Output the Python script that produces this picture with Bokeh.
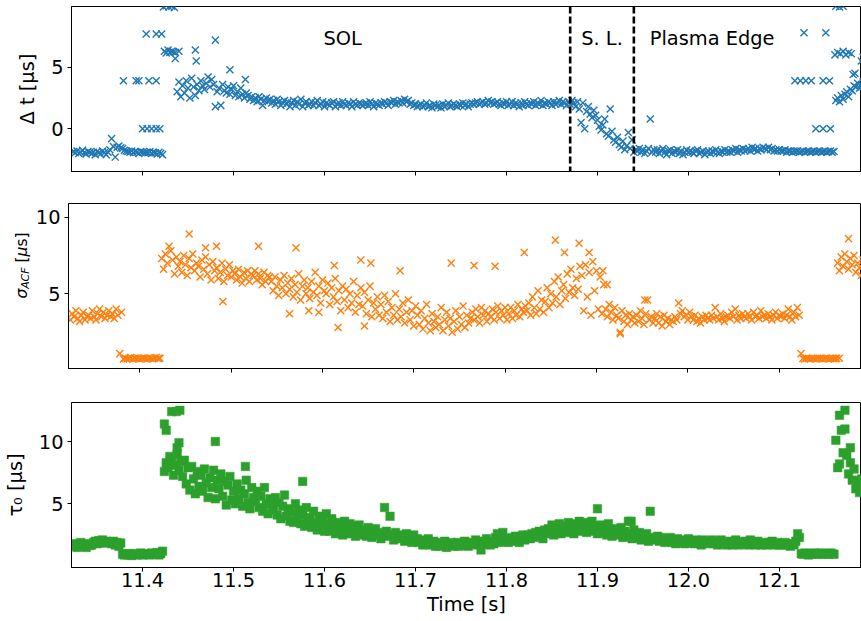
import numpy as np
from bokeh.plotting import figure
from bokeh.layouts import column, row
from bokeh.models import Range1d, FixedTicker, Span, Label
from bokeh.embed import file_html
from bokeh.resources import INLINE

# ---------------- data ----------------
t_start = 11.324   # first sample time [s]
t_step = 0.002     # sampling step [s]

dt_values = [
    -1.85, -1.95, -1.8, -2.0, -1.9, -1.75, -1.95, -2.05, -1.85, -1.9,
    -2.0, -1.9, -2.1, -1.85, -1.95, -2.05, -1.8, -1.95, -2.1, -1.9,
    -1.7, -0.8, -1.45, -2.3, -1.5, -1.4, -1.55, -1.6, -1.75, -1.8,
    -1.85, -1.9, -1.8, -1.95, -1.85, -1.9, -2.0, -1.85, -1.9, -1.95,
    -1.9, -1.95, -1.85, -2.0, -1.9, -1.95, -2.05, -1.9, -2.0, -2.1,
    6.3, 6.15, 6.4, 6.2, 6.3, 6.25, 5.7, 3.0, 3.8, 2.6,
    3.5, 2.9, 3.9, 3.3, 2.5, 4.1, 3.4, 2.7, 3.6, 3.1,
    3.9, 3.5, 3.2, 3.7, 4.2, 3.4, 4.0, 3.6, 1.8, 3.0,
    3.3, 1.9, 3.6, 3.1, 2.9, 3.4, 2.8, 3.2, 3.5, 2.7,
    3.0, 2.6, 3.3, 2.8, 2.5, 2.9, 2.7, 2.4, 2.6, 2.3,
    2.5, 2.2, 2.6, 2.4, 1.9, 2.3, 2.5, 2.2, 2.4, 2.1,
    2.3, 2.0, 2.4, 2.2, 1.9, 2.1, 2.3, 2.0, 2.2, 1.8,
    2.1, 2.3, 1.9, 2.2, 2.0, 2.4, 1.8, 2.1, 2.2, 1.9,
    2.0, 2.2, 1.9, 2.1, 2.3, 1.9, 2.0, 2.2, 1.8, 2.1,
    2.0, 1.9, 2.1, 2.2, 1.8, 2.0, 2.1, 1.9, 2.2, 2.0,
    1.9, 2.1, 2.0, 1.8, 2.2, 2.0, 1.9, 2.1, 2.0, 1.9,
    2.0, 2.1, 1.9, 2.2, 2.0, 1.8, 2.1, 2.0, 1.9, 2.1,
    2.0, 2.2, 2.1, 1.9, 2.2, 2.1, 2.3, 2.0, 2.2, 2.1,
    2.3, 2.1, 2.4, 2.2, 2.3, 2.0, 2.1, 1.9, 2.0, 1.8,
    1.9, 2.0, 1.8, 1.9, 2.1, 1.8, 1.9, 1.7, 2.0, 1.9,
    1.8, 1.9, 1.7, 2.0, 1.8, 1.9, 2.1, 1.8, 1.9, 2.0,
    1.9, 1.8, 2.0, 1.9, 2.1, 1.9, 2.0, 1.8, 2.0, 2.1,
    2.0, 2.1, 2.2, 2.0, 2.1, 2.2, 2.0, 2.1, 2.3, 2.1,
    2.2, 2.0, 2.1, 2.2, 2.0, 1.9, 2.1, 2.0, 2.2, 1.9,
    2.0, 2.2, 1.9, 2.1, 2.0, 1.8, 2.1, 1.9, 2.2, 2.0,
    1.9, 2.1, 2.0, 2.2, 1.9, 2.1, 2.0, 2.3, 1.9, 2.1,
    2.0, 2.2, 2.1, 1.9, 2.2, 2.0, 2.1, 2.3, 2.0, 2.2,
    2.1, 1.9, 2.2, 2.0, 2.3, 2.1, 1.8, 2.2, 1.6, 0.5,
    2.1, 0.0, 1.4, 1.8, 1.2, 0.9, 1.5, 1.1, 0.7, 0.2,
    -0.1, 0.3, 0.8, -0.4, -0.6, 1.6, -0.2, -0.9, -1.1, -0.7,
    -1.3, -1.5, -1.0, -1.7, -1.4, -0.3, -1.6, -0.9, -1.9, -1.7,
    -1.8, -1.6, -1.9, -1.7, -2.0, -1.8, -1.6, 0.8, -1.9, -1.7,
    -1.9, -1.7, -2.0, -1.8, -1.6, -1.9, -2.1, -1.8, -1.7, -2.0,
    -1.8, -1.9, -1.7, -2.0, -1.8, -2.1, -1.9, -1.7, -1.9, -1.8,
    -1.9, -2.0, -1.8, -1.7, -2.0, -1.9, -1.8, -2.1, -1.9, -1.8,
    -2.0, -1.8, -1.9, -1.7, -1.9, -2.0, -1.8, -1.9, -1.7, -1.9,
    -1.8, -1.9, -1.7, -1.8, -1.6, -1.9, -1.7, -1.8, -1.6, -1.8,
    -1.7, -1.6, -1.8, -1.5, -1.7, -1.6, -1.8, -1.6, -1.7, -1.5,
    -1.6, -1.7, -1.5, -1.7, -1.6, -1.8, -1.7, -1.8, -1.7, -1.8,
    -1.8, -1.7, -1.9, -1.8, -1.8, -1.9, -1.8, -1.85, -1.8, -1.9,
    -1.85, -1.8, -1.9, -1.85, -1.8, -1.9, -1.85, -1.8, -1.9, -1.85,
    -1.8, -1.9, -1.85, -1.8, -1.9, -1.85, -1.8, -1.9, -1.85, 2.3,
    2.5, 2.2, 2.7, 2.4, 2.8, 3.0, 2.6, 3.2, 3.1, 3.5,
    3.4, 3.7, 3.3, 3.6, 3.8,
]

sigma_values = [
    3.3, 3.7, 3.5, 3.9, 3.4, 3.2, 3.6, 3.8, 3.3, 3.5,
    3.6, 3.4, 3.9, 3.5, 3.3, 3.7, 4.0, 3.5, 3.8, 3.4,
    3.6, 3.9, 3.5, 3.7, 3.4, 4.0, 3.6, 1.1, 3.8, 0.75,
    0.8, 0.75, 0.8, 0.85, 0.75, 0.8, 0.78, 0.82, 0.75, 0.8,
    0.8, 0.78, 0.75, 0.82, 0.8, 0.76, 0.8, 0.85, 0.78, 0.8,
    7.3, 6.6, 7.6, 7.0, 8.1, 7.8, 7.2, 6.3, 7.4, 6.8,
    7.1, 6.4, 7.5, 6.9, 6.2, 7.3, 6.7, 7.6, 6.5, 7.0,
    6.8, 6.1, 7.2, 6.6, 7.4, 6.3, 6.9, 5.9, 7.1, 6.5,
    6.7, 6.0, 6.4, 7.0, 5.8, 6.6, 6.2, 6.9, 6.1, 6.5,
    6.3, 5.9, 6.6, 6.1, 5.7, 6.4, 6.0, 6.5, 5.8, 6.3,
    6.2, 6.5, 5.9, 6.3, 6.0, 5.6, 6.4, 5.8, 6.2, 6.1,
    5.8, 5.2, 6.1, 5.5, 4.9, 5.9, 5.4, 6.2, 5.0, 5.7,
    5.3, 6.0, 4.8, 5.6, 5.1, 6.3, 4.6, 5.5, 5.9, 5.0,
    5.4, 4.7, 5.8, 5.1, 6.4, 4.9, 5.5, 4.4, 5.9, 5.2,
    5.0, 5.7, 4.3, 5.4, 4.8, 6.0, 4.5, 5.2, 3.9, 5.5,
    4.6, 5.3, 4.1, 5.0, 4.4, 5.8, 3.8, 4.9, 4.3, 5.4,
    4.2, 5.1, 3.7, 4.6, 5.5, 3.5, 4.4, 4.0, 4.8, 3.6,
    4.3, 3.4, 4.9, 3.8, 4.5, 3.2, 4.1, 3.6, 5.0, 3.3,
    4.0, 3.5, 4.4, 3.1, 3.8, 4.6, 3.3, 3.9, 2.9, 4.2,
    3.6, 3.0, 3.9, 2.7, 3.4, 4.3, 3.1, 2.6, 3.7, 3.2,
    2.8, 3.5, 3.0, 4.1, 2.6, 3.3, 3.8, 2.9, 3.4, 2.5,
    3.2, 3.9, 2.7, 3.5, 3.0, 4.2, 2.8, 3.6, 3.1, 3.4,
    3.8, 3.3, 4.0, 3.5, 3.1, 4.1, 3.6, 3.9, 3.2, 3.7,
    3.5, 4.0, 3.3, 3.8, 4.2, 3.4, 3.9, 3.6, 4.1, 3.3,
    3.7, 4.1, 3.4, 3.9, 3.6, 4.3, 3.5, 4.0, 3.8, 4.2,
    3.9, 4.4, 3.6, 4.8, 4.1, 3.7, 5.2, 4.0, 4.6, 3.8,
    4.5, 5.4, 4.1, 5.0, 4.4, 5.8, 4.8, 6.1, 4.3, 5.2,
    5.6, 4.7, 6.3, 5.1, 6.6, 5.4, 4.9, 6.0, 5.3, 6.8,
    6.2, 3.9, 6.9, 4.8, 6.4, 3.6, 7.1, 5.2, 6.5, 4.0,
    6.1, 3.7, 5.6, 4.0, 3.5, 4.3, 3.8, 3.3, 4.1, 3.6,
    3.4, 2.5, 3.9, 3.2, 3.6, 3.0, 3.7, 3.3, 3.5, 3.1,
    3.6, 3.2, 3.9, 3.4, 3.0, 3.7, 4.6, 3.3, 3.5, 3.1,
    3.4, 3.7, 3.1, 3.5, 2.9, 3.6, 3.2, 3.4, 3.0, 3.3,
    3.2, 3.5, 3.3, 4.4, 3.7, 3.9, 3.5, 3.6, 3.3, 3.8,
    3.5, 3.3, 3.6, 3.2, 3.4, 3.1, 3.5, 3.3, 3.6, 3.4,
    3.3, 3.6, 3.4, 4.1, 3.5, 3.3, 3.7, 3.4, 3.2, 3.5,
    3.6, 3.4, 3.8, 3.5, 4.0, 3.3, 3.6, 3.4, 3.7, 3.5,
    3.4, 3.7, 3.5, 3.3, 3.8, 3.5, 3.6, 3.4, 3.9, 3.5,
    3.6, 3.4, 3.7, 3.5, 3.3, 3.6, 3.8, 3.4, 3.6, 3.5,
    3.7, 3.4, 3.6, 4.0, 3.5, 3.3, 3.8, 3.5, 4.1, 3.6,
    1.1, 0.78, 0.75, 0.8, 0.78, 0.76, 0.8, 0.78, 0.75, 0.8,
    0.78, 0.8, 0.76, 0.78, 0.8, 0.75, 0.78, 0.8, 0.77, 0.79,
    7.0, 6.5, 7.4, 6.8, 7.6, 7.1, 6.6, 7.3, 6.9, 7.5,
    6.4, 7.0, 6.7, 6.2, 7.2,
]

tau_values = [
    1.6, 1.8, 1.5, 1.7, 1.9, 1.6, 1.75, 1.5, 1.8, 1.65,
    1.7, 1.9, 2.0, 1.8, 2.05, 1.9, 2.1, 1.85, 2.0, 1.9,
    1.95, 1.8, 2.0, 1.7, 1.9, 1.6, 1.85, 0.95, 0.9, 1.0,
    0.9, 1.0, 0.85, 0.95, 1.0, 0.9, 0.95, 1.05, 0.9, 0.95,
    1.0, 0.95, 0.9, 1.05, 1.0, 0.95, 1.1, 0.9, 1.0, 1.2,
    7.6, 8.3, 7.9, 8.8, 8.6, 7.3, 8.1, 9.0, 7.7, 8.4,
    7.2, 8.5, 6.6, 7.9, 6.1, 8.0, 7.0, 5.8, 7.6, 6.4,
    7.3, 6.0, 7.8, 6.7, 5.5, 7.1, 6.3, 7.7, 5.4, 6.9,
    6.2, 7.4, 5.6, 6.8, 4.9, 6.5, 7.2, 5.3, 6.0, 5.0,
    6.6, 5.4, 6.1, 4.8, 5.8, 6.9, 5.1, 4.6, 6.3, 5.5,
    5.2, 6.0, 4.7, 5.6, 4.4, 6.3, 5.0, 4.2, 5.4, 4.9,
    4.5, 5.5, 4.1, 5.1, 3.8, 4.8, 5.7, 4.0, 4.6, 3.6,
    4.3, 3.5, 5.0, 3.9, 4.5, 3.4, 4.1, 3.2, 4.7, 3.7,
    3.9, 3.1, 4.4, 3.5, 2.9, 4.0, 3.3, 3.7, 2.8, 4.2,
    3.4, 2.8, 3.8, 3.1, 2.6, 3.5, 2.9, 3.3, 2.5, 3.6,
    3.0, 2.6, 3.4, 2.8, 3.2, 2.4, 2.9, 3.3, 2.5, 2.7,
    2.9, 2.4, 3.1, 2.6, 2.3, 2.8, 3.0, 2.5, 2.7, 2.2,
    2.6, 4.7, 2.8, 2.4, 4.0, 2.5, 2.1, 2.7, 2.3, 2.5,
    2.2, 2.4, 2.0, 2.6, 2.1, 2.3, 1.9, 2.5, 2.0, 2.2,
    1.9, 2.1, 1.7, 2.0, 1.8, 2.2, 1.7, 1.9, 2.0, 1.6,
    1.8, 1.6, 1.9, 1.7, 2.0, 1.5, 1.8, 1.7, 1.9, 1.6,
    1.7, 1.9, 1.6, 1.8, 1.7, 2.0, 1.8, 1.6, 1.9, 1.8,
    1.8, 2.1, 1.7, 1.9, 1.3, 2.0, 1.8, 2.2, 1.9, 1.7,
    2.0, 1.8, 2.3, 2.6, 1.9, 2.1, 2.7, 2.0, 2.2, 1.9,
    2.1, 2.3, 2.0, 2.4, 2.2, 1.9, 2.3, 2.5, 2.1, 2.4,
    2.5, 2.2, 2.6, 2.3, 2.7, 2.4, 2.8, 2.5, 2.2, 2.9,
    2.6, 3.0, 2.7, 3.3, 2.5, 3.1, 2.8, 3.4, 2.6, 3.0,
    3.2, 2.7, 3.5, 2.9, 3.3, 2.6, 3.4, 3.0, 3.6, 2.8,
    3.1, 3.5, 2.7, 3.3, 2.9, 3.6, 2.8, 3.2, 2.6, 3.0,
    3.3, 2.7, 3.1, 2.5, 3.4, 2.8, 2.4, 3.0, 2.6, 2.9,
    2.5, 3.1, 2.3, 2.8, 2.4, 3.6, 2.6, 2.2, 2.9, 2.5,
    2.3, 2.7, 2.1, 2.5, 2.2, 2.6, 2.0, 4.4, 2.3, 2.1,
    2.2, 2.4, 2.0, 2.3, 2.1, 1.9, 2.2, 2.0, 2.3, 1.9,
    2.1, 1.8, 2.2, 2.0, 1.9, 2.1, 1.8, 2.0, 2.2, 1.9,
    2.0, 1.8, 2.1, 1.9, 2.0, 1.7, 2.1, 1.9, 1.8, 2.0,
    1.9, 2.1, 1.8, 2.0, 1.7, 1.9, 2.1, 1.8, 1.9, 1.7,
    1.8, 2.0, 1.7, 1.9, 2.1, 1.8, 1.7, 1.9, 1.8, 2.0,
    1.9, 1.7, 2.1, 1.8, 1.9, 1.7, 2.0, 1.8, 1.7, 1.9,
    1.8, 1.7, 1.9, 1.8, 2.0, 1.7, 1.8, 1.9, 1.7, 1.8,
    1.7, 1.9, 1.8, 1.7, 1.6, 1.8, 1.7, 2.0, 2.6, 2.3,
    1.0, 0.95, 1.05, 1.0, 0.9, 1.0, 0.95, 1.05, 1.0, 0.95,
    1.0, 1.05, 0.95, 1.0, 1.0, 0.95, 1.05, 1.0, 0.95, 10.1,
    7.9, 12.1, 10.9, 9.1, 12.5, 8.9, 7.4, 8.3, 6.9, 7.8,
    6.2, 6.8, 5.9, 7.0, 6.5,
]

# additional (off-trend) samples
dt_extra_t = [11.379, 11.393, 11.396, 11.407, 11.415,
              11.400, 11.405, 11.410, 11.415, 11.419,
              11.404, 11.415, 11.421,
              11.423, 11.426, 11.429, 11.432, 11.435,
              11.436, 11.440,
              11.458, 11.459, 11.480, 11.496, 11.513,
              12.117, 12.123, 12.129, 12.135, 12.148, 12.155,
              12.140, 12.148, 12.156,
              12.127, 12.151,
              12.162, 12.166, 12.170,
              12.161, 12.164, 12.167, 12.170, 12.173, 12.176, 12.179,
              12.181, 12.183, 12.190, 12.192]
dt_extra_v = [3.9, 3.9, 3.9, 3.9, 3.9,
              0.0, 0.0, 0.0, 0.0, 0.0,
              7.7, 7.7, 7.7,
              9.9, 10.0, 9.9, 9.95, 9.85,
              6.2, 6.3,
              6.4, 5.5, 7.2, 4.8, 4.0,
              3.9, 3.9, 3.9, 3.9, 3.9, 3.9,
              0.0, 0.0, 0.0,
              7.8, 7.8,
              9.95, 9.9, 9.95,
              6.0, 6.2, 6.1, 6.3, 6.0, 6.2, 6.1,
              4.4, 4.5, 5.5, 5.8]

sigma_extra_t = [11.421, 11.454, 11.472, 11.484, 11.491, 11.530, 11.571, 11.564,
                 11.585, 11.596, 11.613, 11.617, 11.642, 11.646, 11.653, 11.685,
                 11.741, 11.766, 11.789, 11.821, 11.855, 11.865, 11.881, 11.892,
                 11.907, 11.912, 11.926, 11.953, 12.163, 12.166, 12.176]
sigma_extra_v = [0.8, 8.9, 8.0, 8.1, 4.5, 8.1, 8.0, 3.7,
                 3.9, 3.8, 6.85, 2.8, 7.2, 2.9, 7.0, 6.5,
                 7.0, 6.85, 6.8, 7.7, 8.5, 7.7, 8.3, 7.7,
                 6.5, 5.6, 2.4, 4.6, 0.78, 0.8, 8.6]

tau_extra_t = [11.424, 11.426, 11.432, 11.437, 11.441, 11.440, 11.438, 11.480,
               11.513, 11.576, 11.900, 11.937, 12.172, 12.166, 12.178]
tau_extra_v = [11.4, 10.9, 12.4, 12.4, 12.5, 9.9, 9.5, 10.0,
               8.0, 6.8, 4.6, 3.6, 11.0, 8.2, 9.5]

x_ticks = [11.4, 11.5, 11.6, 11.7, 11.8, 11.9, 12.0, 12.1]
x_tick_labels = ["11.4", "11.5", "11.6", "11.7", "11.8", "11.9", "12.0", "12.1"]

boundary_times = [11.87, 11.94]
region_names = ["SOL", "S. L.", "Plasma Edge"]
region_times = [11.62, 11.905, 12.026]
region_level = 7.3

# ---------------- style ----------------
FONT = "DejaVu Sans"
FS = "19.4px"
C_BLUE, C_ORANGE, C_GREEN = "#1f77b4", "#ff7f0e", "#2ca02c"
X_SIZE, X_LW, SQ_SIZE = 10, 1.4, 8.5

x_range = Range1d(11.3219, 12.1902)


def times_for(values):
    return list(t_start + t_step * np.arange(len(values)))


def make_fig(width, height, b_left, b_top, b_bottom, y_range, y_ticks, bottom_labels):
    p = figure(width=width, height=height, x_range=x_range, y_range=y_range,
               output_backend="svg", toolbar_location=None,
               min_border_left=b_left, min_border_right=0,
               min_border_top=b_top, min_border_bottom=b_bottom,
               background_fill_color="white", border_fill_color="white")
    p.outline_line_color = "black"
    p.outline_line_width = 1
    p.outline_line_alpha = 1
    p.grid.visible = False
    for ax in (p.xaxis[0], p.yaxis[0]):
        ax.axis_line_color = "black"
        ax.axis_line_width = 1
        ax.major_tick_line_color = "black"
        ax.major_tick_line_width = 1
        ax.major_tick_in = 0
        ax.major_tick_out = 4
        ax.minor_tick_line_color = None
        ax.major_label_text_font = FONT
        ax.major_label_text_font_size = FS
        ax.major_label_text_color = "black"
        ax.axis_label_text_font = FONT
        ax.axis_label_text_font_size = FS
        ax.axis_label_text_font_style = "normal"
        ax.axis_label_text_color = "black"
    p.yaxis.ticker = FixedTicker(ticks=y_ticks)
    p.yaxis.major_label_standoff = 4
    p.yaxis.axis_label_standoff = 9
    p.xaxis.ticker = FixedTicker(ticks=x_ticks)
    p.xaxis.major_label_standoff = 1
    p.xaxis.axis_label_standoff = 3
    if bottom_labels:
        p.xaxis.major_label_overrides = dict(zip(x_ticks, x_tick_labels))
    else:
        p.xaxis.major_label_overrides = {t: "" for t in x_ticks}
    return p


# ---- top panel: delta t ----
p1 = make_fig(861, 203, 68, 6, 32, Range1d(-3.47, 9.93), [0, 5], False)
p1.yaxis.axis_label = "Δ t [μs]"
p1.scatter(times_for(dt_values) + dt_extra_t, dt_values + dt_extra_v,
           marker="x", size=X_SIZE, line_color=C_BLUE, line_width=X_LW)
for bt in boundary_times:
    p1.add_layout(Span(location=bt, dimension="height", line_color="black",
                       line_width=2.6, line_dash="7 3"))
for name, rt in zip(region_names, region_times):
    p1.add_layout(Label(x=rt, y=region_level, text=name, text_align="center",
                        text_baseline="middle", text_font=FONT,
                        text_font_size=FS, text_color="black"))

# ---- middle panel: sigma_ACF ----
LAB_W = 32
sigma_range = Range1d(0.13, 10.89)
p2 = make_fig(861 - LAB_W, 199, 68 - LAB_W, 0, 34, sigma_range, [5, 10], False)
p2.scatter(times_for(sigma_values) + sigma_extra_t, sigma_values + sigma_extra_v,
           marker="x", size=X_SIZE, line_color=C_ORANGE, line_width=X_LW)

# y-axis title of the middle panel (sigma with subscript), drawn in a narrow strip
# that shares the panel's vertical range, so its frame lines up with the panel.
lab = figure(width=LAB_W, height=199, x_range=Range1d(0, LAB_W), y_range=sigma_range,
             output_backend="svg", toolbar_location=None, x_axis_type=None, y_axis_type=None,
             min_border_left=0, min_border_right=0, min_border_top=0, min_border_bottom=34,
             background_fill_color="white", border_fill_color="white")
lab.outline_line_color = None
lab.grid.visible = False
# (text, centre along the panel's value axis, centre across the strip, size, style)
ylab_parts = [
    ("σ", 5.02, 21.6, "15.5px", "italic"),
    ("ACF", 6.02, 25.2, "10.9px", "italic"),
    ("[", 7.24, 21.6, "15.5px", "normal"),
    ("μ", 7.76, 21.6, "15.5px", "italic"),
    ("s]", 8.54, 21.6, "15.5px", "normal"),
]
for txt, yy, xx, fs, style in ylab_parts:
    lab.add_layout(Label(x=xx, y=yy, text=txt, angle=np.pi / 2, text_align="center",
                         text_baseline="middle", text_font=FONT,
                         text_font_size=fs, text_font_style=style,
                         text_color="black"))

# ---- bottom panel: tau_0 ----
p3 = make_fig(861, 219, 68, 0, 54, Range1d(-0.11, 13.13), [5, 10], True)
p3.yaxis.axis_label = "τ₀ [μs]"
p3.xaxis.axis_label = "Time [s]"
p3.scatter(times_for(tau_values) + tau_extra_t, tau_values + tau_extra_v,
           marker="square", size=SQ_SIZE, fill_color=C_GREEN, line_color=C_GREEN,
           line_width=0.5)

layout = column(p1, row(lab, p2, spacing=0), p3, spacing=0)
open("out.html", "w").write(file_html(layout, INLINE))
